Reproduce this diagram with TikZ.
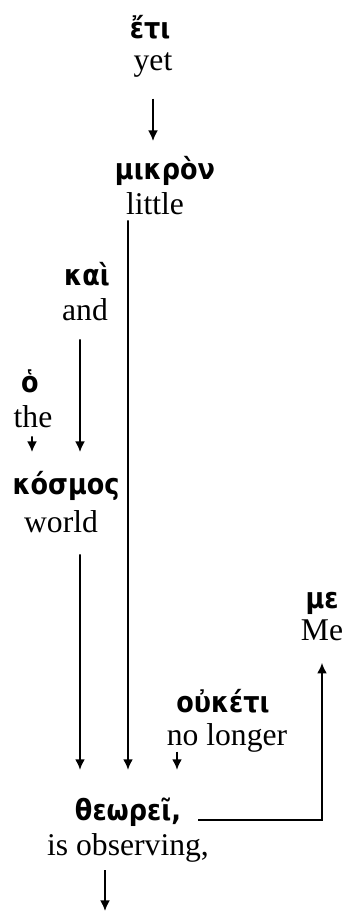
\documentclass[tikz,border=0pt]{standalone}
\usepackage{fontspec}
\usetikzlibrary{arrows.meta}
\setmainfont{Liberation Serif}
\newfontfamily\greekfont[FakeStretch=0.88]{DejaVu Sans}
\tikzset{
  gk/.style={inner sep=0pt,font=\greekfont\bfseries\fontsize{16.5}{20}\selectfont},
  gloss/.style={inner sep=0pt,font=\fontsize{18}{20}\selectfont},
  arr/.style={-{Latex[length=6pt,width=5.6pt]},line width=0.95pt}
}
\begin{document}
\begin{tikzpicture}
\useasboundingbox (0,0) rectangle (6.94,18.22);
% words
\node[gk] (eti) at (3.00,17.68) {ἔτι};
\node[gloss] (yet) at (3.06,16.92) {yet};
\node[gk] (mikron) at (3.30,14.80) {μικρὸν};
\node[gloss] (little) at (3.10,14.14) {little};
\node[gk] (kai) at (1.74,12.74) {καὶ};
\node[gloss] (and) at (1.70,12.02) {and};
\node[gk] (ho) at (0.60,10.60) {ὁ};
\node[gloss] (the) at (0.66,9.88) {the};
\node[gk] (kosmos) at (1.32,8.50) {κόσμος};
\node[gloss] (world) at (1.22,7.78) {world};
\node[gk] (me) at (6.44,6.16) {με};
\node[gloss] (Me) at (6.44,5.62) {Me};
\node[gk] (ouketi) at (4.46,4.20) {οὐκέτι};
\node[gloss] (nolonger) at (4.54,3.46) {no longer};
\node[gk] (theorei) at (2.56,1.98) {θεωρεῖ,};
\node[gloss] (observing) at (2.56,1.26) {is observing,};
\coordinate (down) at (2.10,0.0);

% arrows
\draw[arr] ([yshift=-0.42cm]yet.south) -- ([xshift=-0.24cm,yshift=0.30cm]mikron.north);
\draw[arr] ([xshift=-0.54cm,yshift=-0.10cm]little.south) -- ([yshift=0.55cm]theorei.north);
\draw[arr] ([xshift=-0.10cm,yshift=-0.36cm]and.south) -- ([xshift=0.28cm,yshift=0.38cm]kosmos.north);
\draw[arr] ([xshift=-0.02cm,yshift=-0.16cm]the.south) -- ([xshift=-0.68cm,yshift=0.38cm]kosmos.north);
\draw[arr] ([xshift=0.38cm,yshift=-0.42cm]world.south) -- ([xshift=-0.96cm,yshift=0.55cm]theorei.north);
\draw[arr] ([xshift=-1.00cm,yshift=0.02cm]nolonger.south) -- ([xshift=0.98cm,yshift=0.55cm]theorei.north);
\draw[arr] ([xshift=0.34cm]theorei.base east) -| ([yshift=-0.44cm]Me.south);
\draw[arr] ([xshift=-0.46cm,yshift=-0.15cm]observing.south) -- (down);
\end{tikzpicture}
\end{document}
